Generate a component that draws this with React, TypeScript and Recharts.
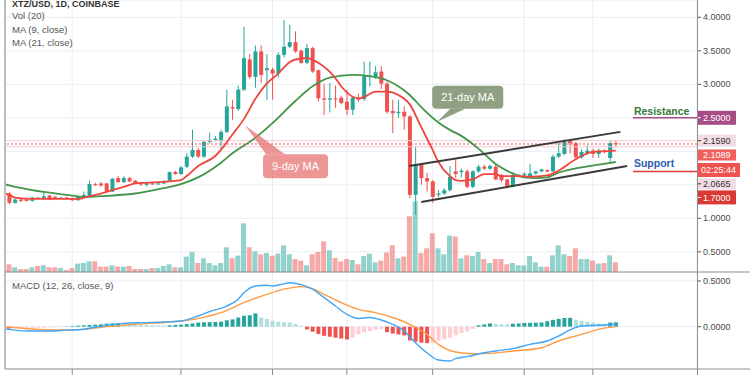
import React from 'react';
import {
  ComposedChart,
  Bar,
  Line,
  XAxis,
  YAxis,
  CartesianGrid,
  ReferenceLine,
  ReferenceDot,
  Cell,
} from 'recharts';

// daily candles, index 0..106
const opens = [
  1.37, 1.23, 1.28, 1.28, 1.26, 1.31, 1.29, 1.34, 1.32, 1.3,
  1.31, 1.3, 1.27, 1.32, 1.33, 1.51, 1.52, 1.52, 1.4, 1.6,
  1.54, 1.6, 1.56, 1.52, 1.5, 1.52, 1.51, 1.52, 1.56, 1.69,
  1.66, 1.77, 1.92, 2.02, 1.92, 2.14, 2.17, 2.15, 2.29, 2.66,
  2.63, 2.92, 3.37, 3.11, 3.49, 3.21, 3.22, 3.16, 3.44, 3.56,
  3.63, 3.5, 3.32, 3.54, 3.21, 2.79, 2.77, 2.79, 2.8, 2.74,
  2.62, 2.8, 2.78, 3.11, 3.11, 3.19, 3.01, 2.6, 2.57, 2.59,
  2.52, 1.35, 1.8, 1.6, 1.55, 1.35, 1.37, 1.42, 1.7, 1.69,
  1.7, 1.47, 1.7, 1.77, 1.74, 1.77, 1.65, 1.58, 1.48, 1.63,
  1.64, 1.62, 1.67, 1.7, 1.72, 1.7, 1.92, 1.96, 2.16, 2.12,
  1.91, 1.96, 2.01, 1.96, 2.01, 1.9, 2.12,
];
const highs = [
  1.39, 1.3, 1.31, 1.29, 1.32, 1.32, 1.39, 1.35, 1.33, 1.32,
  1.32, 1.31, 1.34, 1.4, 1.56, 1.53, 1.54, 1.53, 1.6, 1.63,
  1.63, 1.62, 1.57, 1.54, 1.53, 1.53, 1.53, 1.57, 1.7, 1.71,
  1.78, 1.97, 2.32, 2.05, 2.17, 2.28, 2.23, 2.32, 2.92, 2.77,
  2.98, 3.86, 3.45, 3.58, 3.58, 3.45, 3.25, 3.48, 3.96, 3.89,
  3.79, 3.52, 3.6, 3.56, 3.22, 3.01, 3.02, 2.98, 2.83, 2.92,
  2.82, 2.86, 3.34, 3.34, 3.27, 3.27, 3.04, 2.77, 2.77, 2.67,
  2.54, 2.07, 1.82, 1.68, 1.57, 1.42, 1.45, 1.78, 1.9, 1.74,
  1.73, 1.72, 1.8, 1.8, 1.8, 1.8, 1.66, 1.59, 1.67, 1.66,
  1.69, 1.81, 1.71, 1.74, 1.73, 1.95, 2.12, 2.18, 2.18, 2.14,
  2.03, 2.09, 2.04, 2.04, 2.03, 2.17, 2.159,
];
const lows = [
  1.21, 1.22, 1.24, 1.25, 1.25, 1.29, 1.28, 1.27, 1.29, 1.29,
  1.28, 1.26, 1.26, 1.31, 1.32, 1.48, 1.47, 1.39, 1.39, 1.53,
  1.53, 1.54, 1.51, 1.48, 1.47, 1.5, 1.5, 1.51, 1.54, 1.65,
  1.65, 1.75, 1.9, 1.9, 1.9, 2.12, 2.15, 2.02, 2.27, 2.47,
  2.6, 2.9, 3.08, 2.95, 3.02, 2.77, 2.77, 3.1, 3.4, 3.54,
  3.47, 3.3, 3.3, 3.17, 2.74, 2.54, 2.58, 2.65, 2.7, 2.54,
  2.54, 2.74, 2.75, 2.97, 3.08, 2.93, 2.56, 2.27, 2.5, 2.32,
  1.3, 1.05, 1.5, 1.4, 1.23, 1.31, 1.35, 1.4, 1.6, 1.61,
  1.45, 1.45, 1.68, 1.72, 1.72, 1.57, 1.54, 1.45, 1.46, 1.61,
  1.62, 1.61, 1.65, 1.69, 1.68, 1.69, 1.9, 1.95, 1.97, 1.89,
  1.89, 1.95, 1.9, 1.9, 1.97, 1.84, 2.0665,
];
const closes = [
  1.23, 1.28, 1.26, 1.26, 1.31, 1.3, 1.33, 1.28, 1.3, 1.31,
  1.3, 1.27, 1.33, 1.35, 1.51, 1.5, 1.49, 1.4, 1.59, 1.54,
  1.6, 1.55, 1.52, 1.51, 1.52, 1.51, 1.52, 1.55, 1.69, 1.66,
  1.76, 1.92, 2.02, 1.92, 2.14, 2.17, 2.19, 2.29, 2.67, 2.64,
  2.92, 3.39, 3.11, 3.49, 3.14, 3.24, 3.16, 3.44, 3.56, 3.63,
  3.49, 3.32, 3.54, 3.19, 2.79, 2.77, 2.79, 2.78, 2.72, 2.62,
  2.8, 2.77, 3.12, 3.13, 3.18, 3.01, 2.59, 2.57, 2.59, 2.52,
  1.35, 1.8, 1.6, 1.55, 1.32, 1.37, 1.42, 1.62, 1.66, 1.71,
  1.47, 1.7, 1.77, 1.74, 1.78, 1.58, 1.57, 1.47, 1.65, 1.65,
  1.66, 1.67, 1.7, 1.73, 1.7, 1.92, 1.97, 2.14, 2.12, 1.91,
  1.99, 2.01, 1.96, 2.01, 1.99, 2.12, 2.1089,
];
// volume, millions
const volumes = [
  0.77, 0.47, 0.3, 0.3, 0.47, 0.6, 0.67, 0.47, 0.47, 0.4,
  0.2, 0.4, 0.84, 0.9, 1.07, 1.07, 0.54, 0.54, 0.67, 0.54,
  0.54, 0.6, 0.3, 0.3, 0.3, 0.4, 0.4, 0.6, 0.77, 0.47,
  0.47, 1.54, 2.0, 0.9, 1.37, 0.9, 0.67, 0.9, 2.47, 1.37,
  1.64, 4.87, 2.47, 2.07, 1.77, 1.9, 1.64, 1.84, 2.67, 1.77,
  1.3, 1.14, 0.67, 1.77, 2.0, 3.07, 2.17, 1.4, 1.07, 1.3,
  1.2, 0.77, 1.6, 1.84, 0.97, 1.14, 1.94, 2.67, 1.37, 1.54,
  5.57, 7.07, 1.9, 2.37, 3.87, 2.37, 1.77, 3.64, 3.54, 1.37,
  1.67, 1.6, 2.0, 1.3, 0.9, 1.3, 1.3, 0.77, 0.9, 0.67,
  0.67, 1.6, 0.97, 0.54, 0.54, 1.67, 2.67, 1.77, 1.6, 2.37,
  1.3, 1.3, 1.14, 0.84, 0.9, 1.67, 0.97,
];
const macdHist = [
  -0.02, -0.018, -0.017, -0.016, -0.014, -0.012, -0.01, -0.008, -0.006, -0.003,
  0.003, 0.007, 0.011, 0.015, 0.019, 0.022, 0.026, 0.032, 0.036, 0.038,
  0.035, 0.032, 0.028, 0.024, 0.02, 0.016, 0.013, 0.011, 0.015, 0.018,
  0.022, 0.028, 0.036, 0.045, 0.048, 0.05, 0.052, 0.055, 0.07, 0.08,
  0.1, 0.12, 0.125, 0.145, 0.1, 0.085, 0.065, 0.055, 0.05, 0.045,
  0.03, 0.01, -0.03, -0.055, -0.08, -0.1, -0.11, -0.12, -0.13, -0.14,
  -0.12, -0.085, -0.065, -0.05, -0.035, -0.025, -0.06, -0.075, -0.085, -0.095,
  -0.15, -0.165, -0.175, -0.18, -0.175, -0.155, -0.14, -0.12, -0.095, -0.07,
  -0.05, -0.025, 0.015, 0.025, 0.035, 0.03, 0.026, 0.025, 0.032, 0.034,
  0.04, 0.042, 0.044, 0.046, 0.06, 0.075, 0.085, 0.095, 0.097, 0.075,
  0.065, 0.052, 0.045, 0.036, 0.026, 0.045, 0.048,
];

// [day, value]
const ma9: [number, number][] = [
  [-1, 1.38], [0, 1.35], [1, 1.31], [4, 1.29], [10, 1.29], [12, 1.29], [14, 1.33], [16, 1.37],
  [18, 1.42], [20, 1.47], [22, 1.52], [24, 1.53], [28, 1.55], [30, 1.57], [31, 1.63], [33, 1.78],
  [36, 1.93], [37, 2.02], [39, 2.25], [41, 2.48], [43, 2.78], [45, 3.01], [47, 3.16], [49, 3.33],
  [50, 3.37], [52, 3.39], [54, 3.32], [57, 3.09], [58, 2.97], [61, 2.79], [62, 2.81], [64, 2.89],
  [66, 2.89], [68, 2.84], [70, 2.7], [72, 2.36], [74, 2.02], [75, 1.84], [77, 1.63], [78, 1.57],
  [79, 1.56], [81, 1.58], [83, 1.66], [85, 1.66], [86, 1.63], [89, 1.63], [91, 1.62], [94, 1.64],
  [96, 1.71], [99, 1.88], [102, 1.99], [104, 2.0], [106, 2.01],
];
const ma21: [number, number][] = [
  [-1, 1.515], [0, 1.49], [4, 1.42], [10, 1.35], [13, 1.32], [16, 1.33], [22, 1.37], [27, 1.45],
  [30, 1.51], [33, 1.61], [37, 1.83], [39, 1.97], [43, 2.2], [46, 2.42], [50, 2.75], [53, 2.97],
  [56, 3.1], [60, 3.14], [63, 3.12], [66, 3.06], [68, 2.97], [70, 2.84], [72, 2.66], [75, 2.43],
  [77, 2.32], [79, 2.23], [82, 2.04], [85, 1.81], [88, 1.67], [90, 1.61], [92, 1.6], [94, 1.61],
  [96, 1.68], [100, 1.76], [103, 1.8], [106, 1.84],
];
const macdLine: [number, number][] = [
  [-1, -0.02], [0, -0.03], [3, -0.047], [7, -0.047], [10, -0.038], [13, -0.028], [16, 0.005],
  [20, 0.036], [23, 0.044], [27, 0.051], [30, 0.062], [33, 0.117], [35, 0.165], [38, 0.226],
  [40, 0.3], [41, 0.37], [43, 0.445], [45, 0.453], [46, 0.445], [48, 0.47], [49, 0.48], [51, 0.46],
  [53, 0.41], [55, 0.32], [57, 0.226], [59, 0.135], [61, 0.09], [63, 0.1], [65, 0.073], [67, 0.026],
  [69, -0.047], [71, -0.175], [73, -0.285], [75, -0.365], [77, -0.376], [78, -0.35], [80, -0.328],
  [83, -0.285], [85, -0.266], [88, -0.24], [91, -0.193], [94, -0.157], [96, -0.102], [98, -0.036],
  [100, 0.007], [103, 0.015], [106, 0.026],
];
const signalLine: [number, number][] = [
  [-1, 0], [0, -0.005], [3, -0.022], [9, -0.036], [13, -0.03], [17, 0], [22, 0.026], [28, 0.051],
  [33, 0.088], [37, 0.153], [41, 0.263], [45, 0.354], [48, 0.41], [51, 0.438], [53, 0.416],
  [55, 0.354], [58, 0.263], [61, 0.19], [64, 0.153], [67, 0.1], [70, 0.026], [73, -0.084],
  [75, -0.193], [78, -0.277], [81, -0.296], [84, -0.292], [88, -0.266], [93, -0.23], [96, -0.157],
  [100, -0.084], [103, -0.029], [106, 0],
];

const priceTicks = [0.5, 1, 1.5, 2, 2.5, 3, 3.5, 4];
const priceLabels = [0.5, 1, 3, 3.5, 4];
const macdTicks = [0, 0.5];
const dayTicks = [11, 30, 46, 59, 74, 90, 102];

const X_DOMAIN: [number, number] = [-0.75, 120.2];
const UP = '#26a69a';
const DOWN = '#ef5350';
const GRID = '#e9eef4';
const FONT = '"Liberation Sans", Arial, sans-serif';

const candles = closes.map((close, i) => ({
  i,
  open: opens[i],
  high: highs[i],
  low: lows[i],
  close,
  vol: volumes[i],
  hist: macdHist[i],
}));
const points = (pairs: [number, number][]) => pairs.map(([i, v]) => ({ i, v }));

const histColor = (v: number, i: number) => {
  const prev = i > 0 ? macdHist[i - 1] : 0;
  if (v >= 0) return v >= prev ? '#26a69a' : '#b2dfdb';
  return v <= prev ? '#ef5350' : '#ffcdd2';
};

function Candle(props: any) {
  const { x, y, width, height } = props;
  const d = props.payload ?? props;
  const top = Math.min(y, y + height);
  const h = Math.abs(height);
  const span = d.high - d.low || 1;
  const py = (v: number) => top + ((d.high - v) / span) * h;
  const color = d.close >= d.open ? UP : DOWN;
  const cx = x + width / 2;
  const bTop = py(Math.max(d.open, d.close));
  const bBot = py(Math.min(d.open, d.close));
  return (
    <g>
      <line x1={cx} x2={cx} y1={top} y2={top + h} stroke={color} strokeWidth={1} />
      <rect x={x} y={bTop} width={width} height={Math.max(1, bBot - bTop)} fill={color} />
    </g>
  );
}

function AxisTick(props: any) {
  const { x, y, payload } = props;
  return (
    <g>
      <line x1={x - 6} x2={x - 2} y1={y} y2={y} stroke="#555" />
      <text x={x} y={y} dy="0.35em" fontSize={9} fill="#4a4a4a" fontFamily={FONT}>
        {Number(payload.value).toFixed(4)}
      </text>
    </g>
  );
}

// price tag drawn on the right scale, dy shifts tags that would collide
const tag = (text: string, bg: string, fg: string, dy = 0, w = 39, h = 12) => (props: any) => {
  const vb = props.viewBox;
  const x0 = vb.x + vb.width;
  const yc = vb.y + dy;
  return (
    <g>
      <rect x={x0} y={yc - h / 2} width={w} height={h} fill={bg} />
      <line x1={x0} x2={x0 + 4} y1={yc} y2={yc} stroke={fg} />
      <text x={x0 + 6} y={yc} dy="0.35em" fontSize={9} fill={fg} fontFamily={FONT}>
        {text}
      </text>
    </g>
  );
};

const lastTag = (props: any) => {
  const vb = props.viewBox;
  const x0 = vb.x + vb.width;
  const y1 = vb.y + 11;
  const y2 = vb.y + 26;
  return (
    <g fontFamily={FONT} fontSize={9}>
      <rect x={x0} y={y1 - 5.5} width={39} height={11} fill="#f0605d" />
      <text x={x0 + 6} y={y1} dy="0.35em" fill="#fff">2.1089</text>
      <rect x={x0} y={y2 - 7} width={43} height={14} fill="#ef5350" />
      <text x={x0 + 4} y={y2} dy="0.35em" fill="#fff">02:25:44</text>
    </g>
  );
};

const levelText = (text: string, color: string, lift: number) => (props: any) => {
  const vb = props.viewBox;
  return (
    <text x={vb.x + 1} y={vb.y - lift} fontSize={10.5} fontWeight="bold" fill={color} fontFamily={FONT}>
      {text}
    </text>
  );
};

const callout9 = (p: any) => {
  const { cx, cy } = p;
  return (
    <g>
      <polygon points={`${cx},${cy} ${cx + 21},${cy + 29} ${cx + 40},${cy + 29}`} fill="#e57373" fillOpacity={0.75} />
      <rect x={cx + 18} y={cy + 29} width={65} height={24} rx={4} fill="#e57373" fillOpacity={0.75} />
      <text x={cx + 50.5} y={cy + 41} dy="0.35em" textAnchor="middle" fontSize={11} fill="#fff" fontFamily={FONT}>
        9-day MA
      </text>
    </g>
  );
};

const callout21 = (p: any) => {
  const { cx, cy } = p;
  return (
    <g>
      <polygon points={`${cx},${cy} ${cx + 13},${cy - 13} ${cx + 28},${cy - 13}`} fill="#7d8f6c" fillOpacity={0.85} />
      <rect x={cx - 5} y={cy - 36} width={71} height={23} rx={4} fill="#7d8f6c" fillOpacity={0.85} />
      <text x={cx + 30.5} y={cy - 24.5} dy="0.35em" textAnchor="middle" fontSize={11} fill="#fff" fontFamily={FONT}>
        21-day MA
      </text>
    </g>
  );
};

export default function App() {
  return (
    <div
      style={{
        position: 'absolute',
        left: 0,
        top: 0,
        width: 750,
        height: 375,
        overflow: 'hidden',
        background: '#fff',
        fontFamily: FONT,
      }}
    >
      <div style={{ position: 'absolute', left: 0, top: 0 }}>
        <ComposedChart width={750} height={272} data={candles} margin={{ top: 0, right: 0, bottom: 0, left: 5 }}>
          <CartesianGrid stroke={GRID} xAxisId={0} yAxisId="price" />
          <XAxis xAxisId={0} type="number" dataKey="i" domain={X_DOMAIN} ticks={dayTicks} allowDataOverflow hide />
          <XAxis xAxisId="vx" type="number" dataKey="i" domain={X_DOMAIN} allowDataOverflow hide />
          <YAxis
            yAxisId="price"
            orientation="right"
            domain={[0.1985, 4.258]}
            ticks={priceTicks}
            allowDataOverflow
            width={53}
            axisLine={false}
            tickLine={false}
            tickSize={4}
            tickMargin={2}
            tick={(p: any) => (priceLabels.includes(p.payload.value) ? <AxisTick {...p} /> : <g />)}
          />
          <YAxis yAxisId="vol" domain={[0, 27.2]} allowDataOverflow hide />
          <Bar xAxisId="vx" yAxisId="vol" dataKey="vol" barSize={5} isAnimationActive={false}>
            {candles.map((d) => (
              <Cell key={d.i} fill={d.close >= d.open ? UP : DOWN} fillOpacity={0.5} />
            ))}
          </Bar>
          <ReferenceLine xAxisId={0} yAxisId="price" y={2.159} stroke="#f6c9d4" label={tag('2.1590', '#f2dde4', '#333')} />
          <ReferenceLine xAxisId={0} yAxisId="price" y={2.0665} stroke="#f6c9d4" label={tag('2.0665', '#f2dde4', '#333', 37, 39, 11)} />
          <ReferenceLine xAxisId={0} yAxisId="price" y={2.1089} stroke="#ef5350" strokeDasharray="2 2" label={lastTag} />
          <Bar xAxisId={0} yAxisId="price" dataKey={(d: any) => [d.low, d.high]} barSize={4} shape={Candle} isAnimationActive={false} />
          <Line xAxisId={0} yAxisId="price" data={points(ma21)} dataKey="v" type="monotone" stroke="#43954a" strokeWidth={1.8} dot={false} isAnimationActive={false} />
          <Line xAxisId={0} yAxisId="price" data={points(ma9)} dataKey="v" type="monotone" stroke="#f0453d" strokeWidth={1.8} dot={false} isAnimationActive={false} />
          <ReferenceLine xAxisId={0} yAxisId="price" segment={[{ x: 69.9, y: 1.78 }, { x: 106.8, y: 2.29 }]} stroke="#3a3a3a" strokeWidth={2} />
          <ReferenceLine xAxisId={0} yAxisId="price" segment={[{ x: 72, y: 1.243 }, { x: 108, y: 1.78 }]} stroke="#3a3a3a" strokeWidth={2} />
          <ReferenceLine
            xAxisId={0}
            yAxisId="price"
            segment={[{ x: 109, y: 2.5 }, { x: 120.2, y: 2.5 }]}
            stroke="#a64d86"
            strokeWidth={1.5}
            label={levelText('Resistance', '#357a38', 2.5)}
          />
          <ReferenceLine
            xAxisId={0}
            yAxisId="price"
            segment={[{ x: 109, y: 1.7 }, { x: 120.2, y: 1.7 }]}
            stroke="#e03b36"
            strokeWidth={1.5}
            label={levelText('Support', '#2a5db0', 4.5)}
          />
          <ReferenceLine xAxisId={0} yAxisId="price" y={2.5} stroke="none" label={tag('2.5000', '#a64d86', '#fff', 0, 39, 14)} />
          <ReferenceLine xAxisId={0} yAxisId="price" y={1.7} stroke="none" label={tag('1.7000', '#d93a35', '#fff', 26, 39, 14)} />
          <ReferenceDot xAxisId={0} yAxisId="price" x={41.2} y={2.39} ifOverflow="visible" shape={callout9} />
          <ReferenceDot xAxisId={0} yAxisId="price" x={74.8} y={2.44} ifOverflow="visible" shape={callout21} />
        </ComposedChart>
      </div>

      <div style={{ position: 'absolute', left: 0, top: 272 }}>
        <ComposedChart width={750} height={103} data={candles} margin={{ top: 0, right: 0, bottom: 0, left: 5 }}>
          <CartesianGrid stroke={GRID} />
          <XAxis
            type="number"
            dataKey="i"
            domain={X_DOMAIN}
            ticks={dayTicks}
            allowDataOverflow
            height={6}
            tickSize={6}
            axisLine={false}
            tickLine={{ stroke: '#8a8a8a' }}
            tickFormatter={() => ''}
          />
          <YAxis
            orientation="right"
            domain={[-0.463, 0.598]}
            ticks={macdTicks}
            allowDataOverflow
            width={53}
            axisLine={false}
            tickLine={false}
            tickSize={4}
            tickMargin={2}
            tick={(p: any) => <AxisTick {...p} />}
          />
          <Bar dataKey="hist" barSize={4} isAnimationActive={false}>
            {candles.map((d) => (
              <Cell key={d.i} fill={histColor(d.hist, d.i)} />
            ))}
          </Bar>
          <Line data={points(signalLine)} dataKey="v" type="monotone" stroke="#ff9a45" strokeWidth={1.4} dot={false} isAnimationActive={false} />
          <Line data={points(macdLine)} dataKey="v" type="monotone" stroke="#42a5f5" strokeWidth={1.4} dot={false} isAnimationActive={false} />
        </ComposedChart>
      </div>

      <svg width={750} height={375} style={{ position: 'absolute', left: 0, top: 0, pointerEvents: 'none' }} fontFamily={FONT}>
        <line x1={5} x2={5} y1={0} y2={369} stroke="#bdbdbd" strokeWidth={2} />
        <line x1={697.5} x2={697.5} y1={0} y2={375} stroke="#8f8f8f" />
        <line x1={5} x2={750} y1={272} y2={272} stroke="#8f8f8f" />
        <line x1={5} x2={750} y1={369} y2={369} stroke="#8f8f8f" />
        <text x={12} y={6.5} fontSize={9} fontWeight="bold" fill="#333">XTZ/USD, 1D, COINBASE</text>
        <text x={12} y={19.3} fontSize={9.5} fill="#555">Vol (20)</text>
        <text x={12} y={32.6} fontSize={9.5} fill="#555">MA (9, close)</text>
        <text x={12} y={45.9} fontSize={9.5} fill="#555">MA (21, close)</text>
        <text x={12} y={289.4} fontSize={9.5} fill="#555">MACD (12, 26, close, 9)</text>
      </svg>
    </div>
  );
}
